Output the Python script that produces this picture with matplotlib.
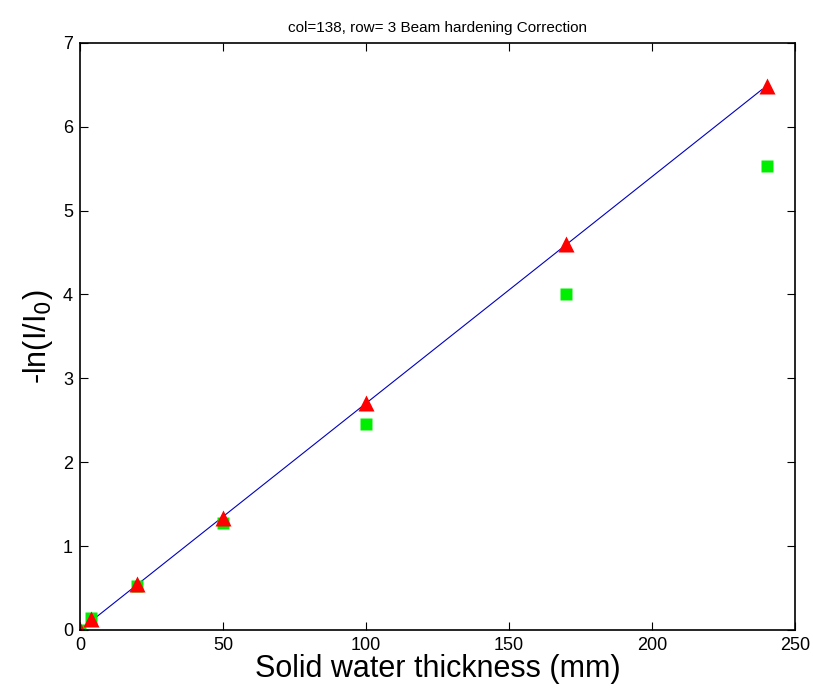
import numpy as np
import matplotlib
matplotlib.use("Agg")
import matplotlib.pyplot as plt

plt.rcParams['font.family'] = ['Liberation Sans', 'DejaVu Sans']

thickness = [0, 4, 20, 50, 100, 170, 240]
corrected = [0.0, 0.13, 0.55, 1.34, 2.71, 4.60, 6.48]
measured = [0.0, 0.14, 0.53, 1.28, 2.46, 4.01, 5.53]

# linear fit through origin of corrected values
x = np.array(thickness, dtype=float)
y = np.array(corrected)
slope = np.sum(x * y) / np.sum(x * x)
xfit = np.array([0, 238.5])

fig = plt.figure(figsize=(8.13, 6.9), dpi=100)
ax = fig.add_axes([0.0984, 0.087, 0.8796, 0.851])

ax.plot(xfit, slope * xfit, color='#0000c0', lw=0.8)
ax.plot(thickness, measured, 's', color='#00ee00', ms=9, mec='none')
ax.plot(thickness, corrected, '^', color='red', ms=11, mec='none')

ax.set_xlim(0, 250)
ax.set_ylim(0, 7)
ax.set_xticks([0, 50, 100, 150, 200, 250])
ax.set_yticks(range(8))
ax.tick_params(direction='in', top=True, right=True, labelsize=13, length=6, pad=5)
for s in ax.spines.values():
    s.set_linewidth(1.2)

ax.set_xlabel('Solid water thickness (mm)', fontsize=22, labelpad=0)
ax.set_ylabel('-ln(I/I$_0$)', fontsize=22, labelpad=6)
ax.set_title('col=138, row= 3 Beam hardening Correction', fontsize=11, pad=8)

fig.savefig('out.png', dpi=100)
